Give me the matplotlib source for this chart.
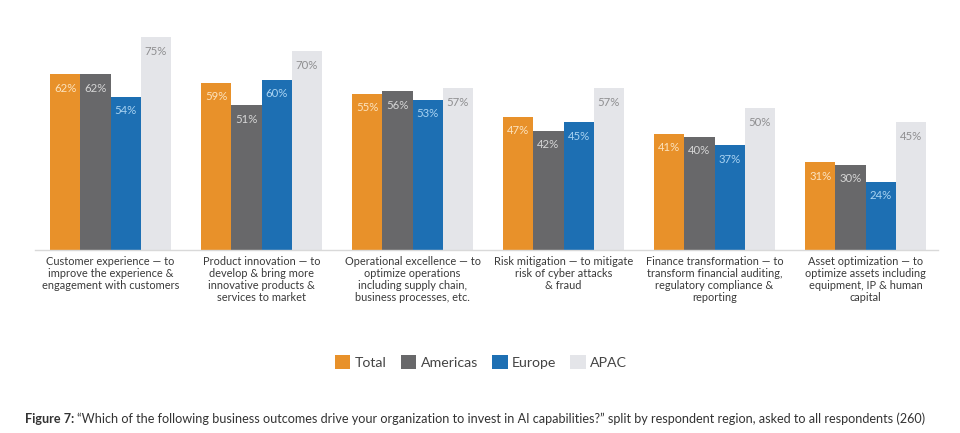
import matplotlib
matplotlib.use("Agg")
import matplotlib.pyplot as plt
from matplotlib.patches import Patch
import numpy as np

categories = [
    "Customer experience — to\nimprove the experience &\nengagement with customers",
    "Product innovation — to\ndevelop & bring more\ninnovative products &\nservices to market",
    "Operational excellence — to\noptimize operations\nincluding supply chain,\nbusiness processes, etc.",
    "Risk mitigation — to mitigate\nrisk of cyber attacks\n& fraud",
    "Finance transformation — to\ntransform financial auditing,\nregulatory compliance &\nreporting",
    "Asset optimization — to\noptimize assets including\nequipment, IP & human\ncapital",
]
series_names = ["Total", "Americas", "Europe", "APAC"]
total = [62, 59, 55, 47, 41, 31]
americas = [62, 51, 56, 42, 40, 30]
europe = [54, 60, 53, 45, 37, 24]
apac = [75, 70, 57, 57, 50, 45]

colors = ["#E8912A", "#68686A", "#1D6FB3", "#E4E5E9"]
label_colors = ["#FCE3BE", "#D6D6D6", "#A9D3F2", "#8E8E90"]

plt.rcParams['font.family'] = ['Lato', 'DejaVu Sans']

fig = plt.figure(figsize=(9.6, 4.33), dpi=100)
ax = fig.add_axes([35/960, 183/433, 903/960, 227/433])

x = np.arange(len(categories))
w = 0.2
data = [total, americas, europe, apac]
for k, vals in enumerate(data):
    pos = x + (k - 1.5) * w
    ax.bar(pos, vals, width=w, color=colors[k], zorder=2)
    for p, v in zip(pos, vals):
        ax.annotate(f"{v}%", (p, v), xytext=(0, -14), textcoords="offset pixels",
                    ha="center", va="center", fontsize=8.2, color=label_colors[k])

ax.set_xlim(-0.5, 5.48)
ax.set_ylim(0, 80)
for s in ["top", "right", "left"]:
    ax.spines[s].set_visible(False)
ax.spines["bottom"].set_color("#D9D9D9")
ax.spines["bottom"].set_linewidth(1)
ax.set_yticks([])
ax.set_xticks(x)
ax.set_xticklabels(categories, fontsize=7.95, color="#3A3A3A", linespacing=1.12, va="top")
ax.tick_params(axis="x", length=0, pad=4)

handles = [Patch(facecolor=c, edgecolor="none") for c in colors]
fig.legend(handles, series_names, loc="center", bbox_to_anchor=(481/960, 1 - 362/433),
           ncol=4, frameon=False, fontsize=10.2, handlelength=1.1, handleheight=1.1,
           handletextpad=0.3, columnspacing=1.0, labelcolor="#444444")

renderer = fig.canvas.get_renderer()
t1 = fig.text(25/960, 1 - 419/433, "Figure 7:", fontsize=9.1, fontweight="bold",
              color="#333333", va="center", ha="left")
bb = t1.get_window_extent(renderer)
fig.text((bb.x1 + 3) / 960, 1 - 419/433,
         "“Which of the following business outcomes drive your organization to invest in AI capabilities?” split by respondent region, asked to all respondents (260)",
         fontsize=9.1, color="#333333", va="center", ha="left")

fig.savefig("out.png", dpi=100)
